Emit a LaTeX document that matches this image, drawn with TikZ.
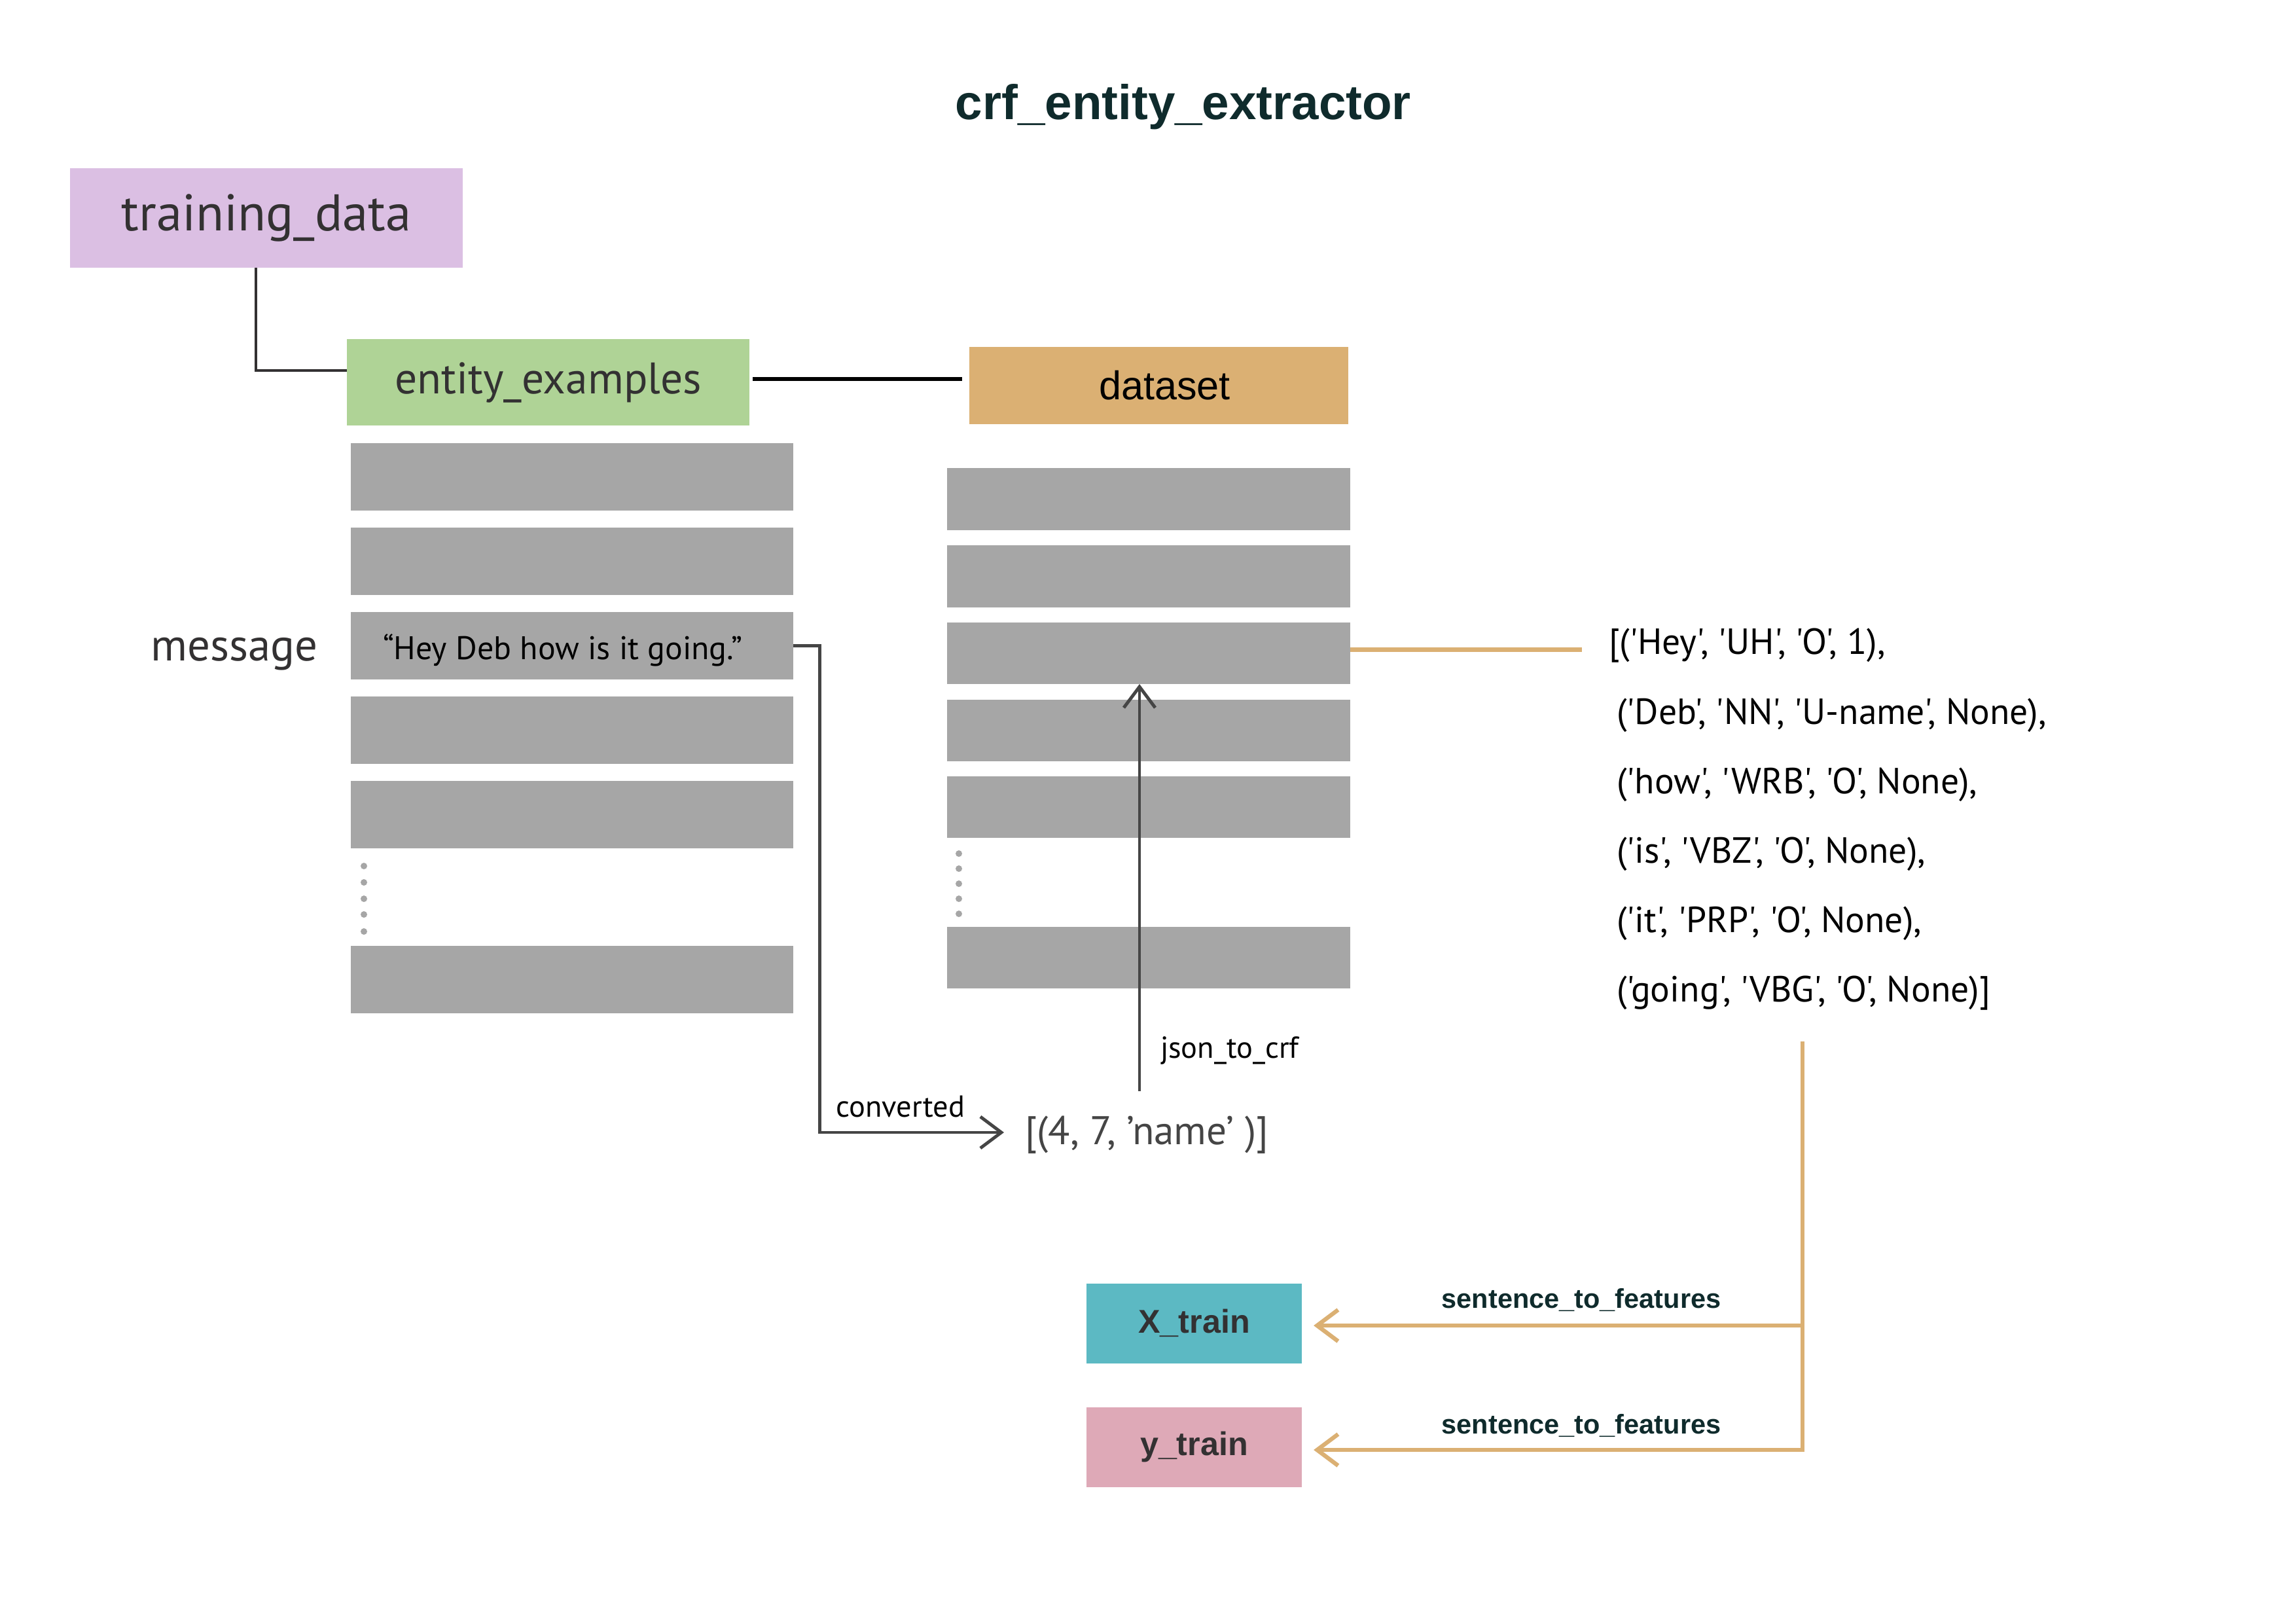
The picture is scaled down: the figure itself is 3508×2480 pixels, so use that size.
\documentclass[tikz,border=0pt]{standalone}
\usepackage{fontspec}
\usetikzlibrary{arrows.meta}
\newfontfamily\myr{PT Sans}[Ligatures=TeXOff]
\newfontfamily\ari{Liberation Sans}
\definecolor{cpurple}{HTML}{DBBFE3}
\definecolor{cgreen}{HTML}{AFD396}
\definecolor{corange}{HTML}{DBB073}
\definecolor{rowgray}{HTML}{A6A6A6}
\definecolor{cteal}{HTML}{5CB9C3}
\definecolor{cpink}{HTML}{DEA9B7}
\definecolor{ctitle}{HTML}{0F2B2C}
\definecolor{txtdark}{HTML}{333132}
\definecolor{lineg}{HTML}{454545}
\begin{document}
\begin{tikzpicture}[x=0.01cm,y=-0.01cm,
  every node/.style={inner sep=0pt,outer sep=0pt},
  growl/.style={fill=rowgray,minimum height=1.03cm,minimum width=6.76cm},
  growr/.style={fill=rowgray,minimum height=0.94cm,minimum width=6.16cm},
  conn/.style={draw=lineg,line width=1.4pt},
  oline/.style={draw=corange,line width=1.8pt},
  barb/.style={-{Straight Barb[length=0.32cm,width=0.48cm]}},
  listtxt/.style={anchor=base west,text=black,font={\myr\fontsize{15.8}{18}\selectfont}},
  smalltxt/.style={text=black,font={\myr\fontsize{13.2}{16}\selectfont}},
  sfeat/.style={anchor=base,text=ctitle,font={\ari\bfseries\fontsize{11.8}{14}\selectfont}},
  trainbox/.style={minimum width=3.29cm,minimum height=1.22cm,text=txtdark,font={\ari\bfseries\fontsize{14.3}{17}\selectfont}}
]
\path[use as bounding box,fill=white] (0,0) rectangle (3508,2480);

% title
\node[anchor=base,text=ctitle,font={\ari\bfseries\fontsize{21.2}{25}\selectfont}] (title) at (1808,182) {crf\_entity\_extractor};

% main boxes
\node[fill=cpurple,minimum width=6cm,minimum height=1.52cm,text=txtdark,font={\myr\fontsize{22.4}{26}\selectfont}] (td) at (407,333) {training\_data};
\node[fill=cgreen,minimum width=6.15cm,minimum height=1.32cm,text=txtdark,font={\myr\fontsize{19.2}{23}\selectfont}] (ee) at (837.5,584) {entity\_examples};
\node[fill=corange,minimum width=5.79cm,minimum height=1.18cm,text=black,font={\ari\fontsize{17.4}{20}\selectfont}] (ds) at (1770.5,589) {\hspace*{0.18cm}dataset};

\draw[draw=txtdark,line width=1.4pt] ([xshift=-0.16cm]td.south) |- ([yshift=0.18cm]ee.west);
\coordinate (eeR) at ([yshift=0.05cm]ee.east);
\draw[line width=1.8pt,black,shorten <=0.05cm,shorten >=0.11cm] (eeR) -- (eeR -| ds.west);

% rows
\foreach \i/\yy in {1/728.5,2/857.5,3/986.5,4/1115.5,5/1244.5,6/1496.5}
  \node[growl] (l\i) at (874,\yy) {};
\foreach \i/\yy in {1/762.5,2/880.5,3/998,4/1115.5,5/1233,6/1462.5}
  \node[growr] (r\i) at (1755,\yy) {};
\foreach \yy in {1323,1348,1373,1397,1423}
  \fill[rowgray] (556,\yy) circle[radius=0.05cm];
\foreach \yy in {1304,1327,1350,1373,1396}
  \fill[rowgray] (1465,\yy) circle[radius=0.05cm];

% message
\node[anchor=base,text=txtdark,font={\myr\fontsize{19.6}{23}\selectfont}] (msg) at (358,1009) {message};
\node[anchor=base west,text=black,font={\myr\fontsize{14.2}{17}\selectfont}] (hey) at (585,1007) {“Hey Deb how is it going.”};

% converted
\node[anchor=base west,text=lineg,font={\myr\fontsize{17.4}{21}\selectfont}] (tup) at (1566,1748) {[(4, 7, ’name’ )]};
\coordinate (tupin) at (1534,1730);
\draw[conn,barb] (l3.east) -- ++(40,0) |- (tupin);
\node[anchor=base,smalltxt] (conv) at (1376,1706) {converted};

% json_to_crf
\coordinate (jst) at (1741,1667);
\draw[conn,barb] (jst) -- (jst |- r3.south);
\node[anchor=base west,smalltxt] (json) at (1773,1616) {json\_to\_crf};

% list
\coordinate (lst) at (2417,992.5);
\draw[oline] (r3.east |- lst) -- (lst);
\node[listtxt] (t1) at (2458,999.5) {[('Hey', 'UH', 'O', 1),};
\node[listtxt] (t2) at (2470,1106) {('Deb', 'NN', 'U-name', None),};
\node[listtxt] (t3) at (2470,1212) {('how', 'WRB', 'O', None),};
\node[listtxt] (t4) at (2470,1318) {('is', 'VBZ', 'O', None),};
\node[listtxt] (t5) at (2470,1424) {('it', 'PRP', 'O', None),};
\node[listtxt] (t6) at (2470,1530) {('going', 'VBG', 'O', None)]};

% train boxes
\node[trainbox,fill=cteal] (xt) at (1824.5,2021.5) {X\_train};
\node[trainbox,fill=cpink] (yt) at (1824.5,2210.5) {y\_train};
\coordinate (ost) at (2754,1591);
\coordinate (ya) at (2754,2215);
\coordinate (xa) at (2754,2025);
\draw[oline,barb,shorten >=0.18cm] (ost) |- (ya -| yt.east);
\draw[oline,barb,shorten >=0.18cm] (xa) -- (xa -| xt.east);
\node[sfeat] (s1) at (2416,1998) {sentence\_to\_features};
\node[sfeat] (s2) at (2416,2190) {sentence\_to\_features};
\end{tikzpicture}
\end{document}
